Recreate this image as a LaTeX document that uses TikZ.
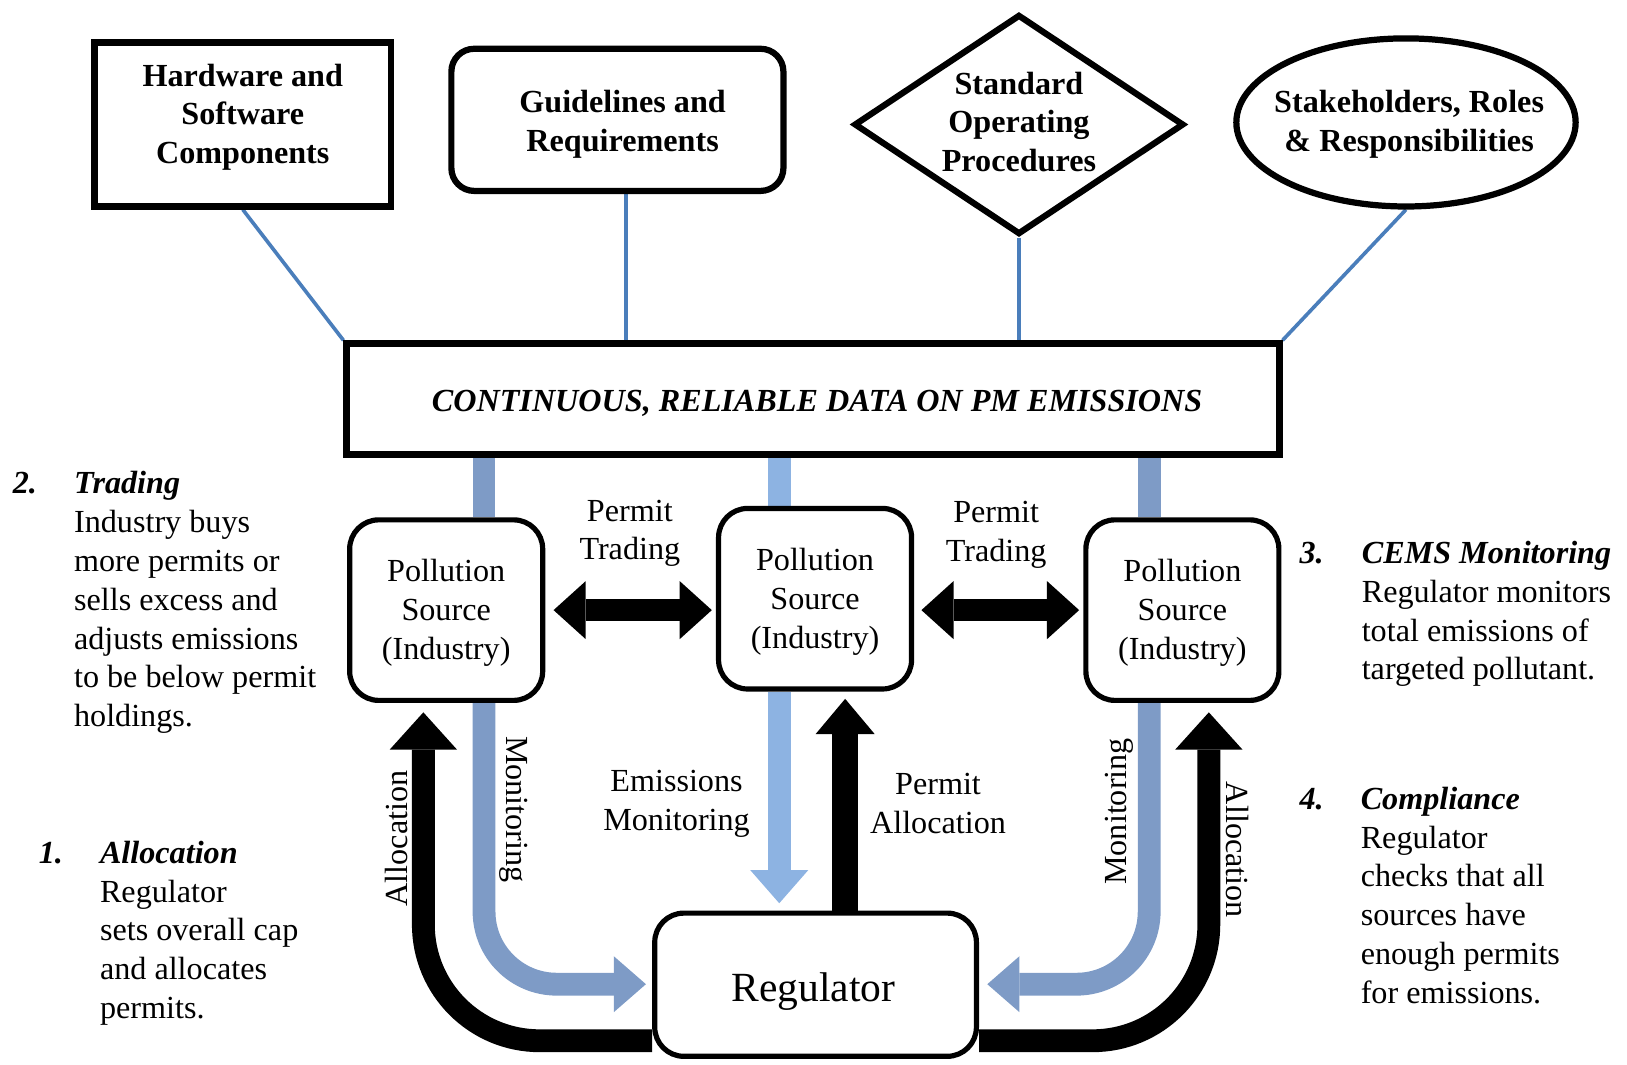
\documentclass[tikz,border=0pt]{standalone}
\usepackage{fontspec}
\setmainfont{Liberation Serif}
\usetikzlibrary{arrows.meta,shapes.geometric,calc}
\pgfdeclarelayer{bg}
\pgfsetlayers{bg,main}
\definecolor{thinblue}{HTML}{4A7EBB}
\definecolor{steel}{HTML}{7E9BC6}
\definecolor{lightblue}{HTML}{8DB3E2}
\begin{document}
\begin{tikzpicture}[x=0.5pt,y=-0.5pt,
  every node/.style={font=\fontsize{15.5pt}{18.7pt}\selectfont},
  topbox/.style={draw, line width=3pt, fill=white, inner sep=0pt},
  boldlbl/.style={align=center, inner sep=0pt, font=\fontsize{15.5pt}{18.7pt}\selectfont\bfseries},
  srcbox/.style={draw, line width=2.5pt, fill=white, rounded corners=14pt, minimum width=93pt, minimum height=87pt, align=center, inner sep=0pt},
  srclbl/.style={align=center, inner sep=0pt},
  link/.style={thinblue, line width=1.75pt},
  steelbar/.style={steel, line width=11pt},
  lightbar/.style={lightblue, line width=11pt},
  blackbar/.style={black, line width=11pt},
  sidetext/.style={align=left, anchor=base west, inner sep=0pt},
  midlbl/.style={align=center, inner sep=0pt},
  tipA/.style={-{Triangle[width=28pt,length=16pt,line width=0pt]}},
  tipB/.style={-{Triangle[width=32.5pt,length=18pt,line width=0pt]}},
  tipD/.style={{Triangle[width=28pt,length=15.5pt,line width=0pt]}-{Triangle[width=28pt,length=15.5pt,line width=0pt]}}
]
\useasboundingbox (0,0) rectangle (1568,1026);

% top boxes
\node[topbox, rectangle, minimum width=143pt, minimum height=79pt,
  label={[boldlbl, yshift=3.5pt]center:{Hardware and\\Software\\Components}}] (hw) at (234,120) {};
\node[topbox, rectangle, rounded corners=11pt, minimum width=160pt, minimum height=68.5pt,
  label={[boldlbl, yshift=-2pt, xshift=2.5pt]center:{Guidelines and\\Requirements}}] (gr) at (595,115.5) {};
\node[topbox, diamond, minimum width=159pt, minimum height=106pt,
  label={[boldlbl, yshift=1.25pt]center:{Standard\\Operating\\Procedures}}] (sop) at (982,120) {};
\node[topbox, ellipse, minimum width=163.5pt, minimum height=81pt,
  label={[boldlbl, yshift=-1pt, xshift=1.5pt]center:{Stakeholders, Roles\\\& Responsibilities}}] (sh) at (1355,118) {};

\node[topbox, rectangle, minimum width=449.5pt, minimum height=53.5pt,
  label={[inner sep=0pt, yshift=-2pt, xshift=2pt, font=\fontsize{15.5pt}{18.7pt}\selectfont\bfseries\itshape]center:{CONTINUOUS, RELIABLE DATA ON PM EMISSIONS}}] (cont) at (783.5,384.5) {};

% pollution sources and regulator
\node[srcbox, label={[srclbl, yshift=-1.25pt]center:{Pollution\\Source\\(Industry)}}] (ls) at (430,588) {};
\node[srcbox, label={[srclbl, yshift=-1.5pt]center:{Pollution\\Source\\(Industry)}}] (ms) at (785.5,577) {};
\node[srcbox, label={[srclbl, yshift=-1.25pt]center:{Pollution\\Source\\(Industry)}}] (rs) at (1139.5,588) {};
\node[srcbox, minimum width=155pt, minimum height=69pt,
  label={[inner sep=0pt, yshift=-3.5pt, xshift=-1pt, font=\fontsize{20pt}{24pt}\selectfont]center:Regulator}] (reg) at (786,949) {};

% helper coordinates
\coordinate (xL) at (466.5,0);
\coordinate (xM) at (751,0);
\coordinate (xR) at (1107.5,0);
\coordinate (xA) at (814.5,0);
\coordinate (xBL) at (408,0);
\coordinate (xBR) at (1165,0);
\coordinate (xG) at (603,0);
\coordinate (yMon) at (0,948.5);
\coordinate (yAl) at (0,1003);

\begin{pgfonlayer}{bg}
  % thin links
  \draw[link] (hw.south) -- (cont.north west);
  \draw[link] (gr.south -| xG) -- (cont.north -| xG);
  \draw[link] (sop.south) -- (sop.south |- cont.north);
  \draw[link] (sh.south) -- (cont.north east);
  % bars from data box
  \draw[steelbar] (cont.south -| xL) -- (ls.north -| xL);
  \draw[lightbar] (cont.south -| xM) -- (ms.north -| xM);
  \draw[steelbar] (cont.south -| xR) -- (rs.north -| xR);
  % middle arrows
  \draw[lightbar, tipA, shorten >=3.5pt] (ms.south -| xM) -- (reg.north -| xM);
  \draw[blackbar, line width=12.5pt, -{Triangle[width=28.5pt,length=17pt,line width=0pt]}, shorten >=3.5pt]
    (reg.north -| xA) -- (ms.south -| xA);
  % curved monitoring arrows
  \draw[steelbar, rounded corners=35pt, -{Triangle[width=27pt,length=15.5pt,line width=0pt]}, shorten >=3pt]
    (ls.south -| xL) -- (xL |- yMon) -- (reg.west |- yMon);
  \draw[steelbar, rounded corners=35pt, -{Triangle[width=27pt,length=15.5pt,line width=0pt]}, shorten >=4pt]
    (rs.south -| xR) -- (xR |- yMon) -- (reg.east |- yMon);
  % curved allocation arrows
  \draw[blackbar, rounded corners=56pt, tipB, shorten >=4.5pt]
    (reg.west |- yAl) -- (xBL |- yAl) -- (xBL |- ls.south);
  \draw[blackbar, rounded corners=56pt, tipB, shorten >=4.5pt]
    (reg.east |- yAl) -- (xBR |- yAl) -- (xBR |- rs.south);
  % trading arrows
  \draw[blackbar, line width=10.75pt, tipD, shorten <=4pt, shorten >=2pt] (ls.east) -- (ls.east -| ms.west);
  \draw[blackbar, line width=10.75pt, tipD, shorten <=3.5pt, shorten >=2pt] (ms.east |- rs.west) -- (rs.west);
\end{pgfonlayer}

% middle labels
\node[midlbl] (pt1) at (607,514) {Permit\\Trading};
\node[midlbl] (pt2) at (960,515.5) {Permit\\Trading};
\node[midlbl] (em) at (652,774.5) {Emissions\\Monitoring};
\node[midlbl] (pa) at (904,774) {Permit\\Allocation};
\node[rotate=90, inner sep=0pt] (la) at (382,808) {Allocation};
\node[rotate=-90, inner sep=0pt] (lm) at (495,780) {Monitoring};
\node[rotate=90, inner sep=0pt] (rm) at (1079,782) {Monitoring};
\node[rotate=-90, inner sep=0pt] (ra) at (1193,819) {Allocation};

% side texts (base anchor = baseline of the last line)
\node[sidetext] (n2) at (12,476) {\textbf{\textit{2.}}};
\node[sidetext] (t2) at (71,700.4) {\textbf{\textit{Trading}}\\Industry buys\\more permits or\\sells excess and\\adjusts emissions\\to be below permit\\holdings.};
\node[sidetext] (n1) at (37,832) {\textbf{\textit{1.}}};
\node[sidetext] (t1) at (96,981.6) {\textbf{\textit{Allocation}}\\Regulator\\sets overall cap\\and allocates\\permits.};
\node[sidetext] (n3) at (1252,543) {\textbf{\textit{3.}}};
\node[sidetext] (t3) at (1312,655.2) {\textbf{\textit{CEMS Monitoring}}\\Regulator monitors\\total emissions of\\targeted pollutant.};
\node[sidetext] (n4) at (1252,780) {\textbf{\textit{4.}}};
\node[sidetext] (t4) at (1311,967) {\textbf{\textit{Compliance}}\\Regulator\\checks that all\\sources have\\enough permits\\for emissions.};
\end{tikzpicture}
\end{document}
